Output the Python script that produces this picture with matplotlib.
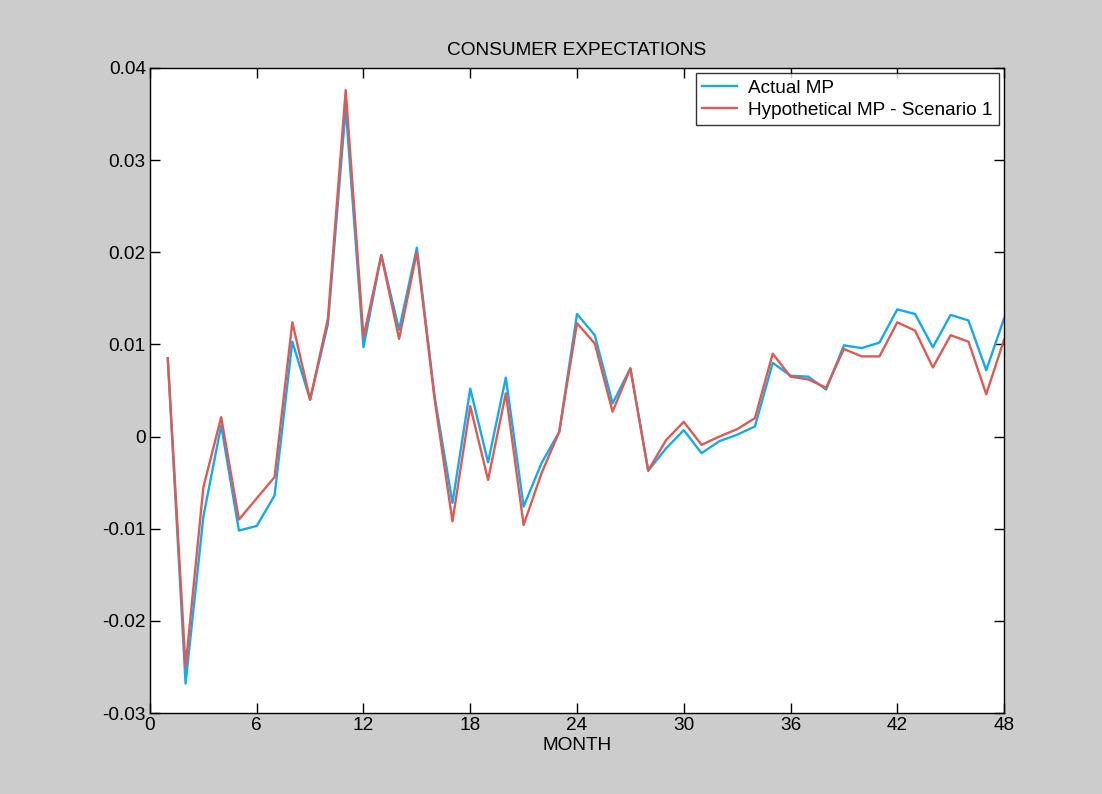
import matplotlib
matplotlib.use("Agg")
import matplotlib.pyplot as plt
import numpy as np

plt.rcParams['font.family'] = ['Liberation Sans', 'DejaVu Sans']

months = np.arange(1, 49)

actual_mp = [
    0.0085, -0.0268, -0.0087, 0.0012, -0.0102, -0.0097, -0.0064, 0.0103,
    0.0040, 0.0122, 0.0357, 0.0097, 0.0197, 0.0116, 0.0205, 0.0043,
    -0.0072, 0.0052, -0.0028, 0.0064, -0.0076, -0.0029, 0.0005, 0.0133,
    0.0110, 0.0036, 0.0074, -0.0037, -0.0013, 0.0007, -0.0018, -0.0005,
    0.0002, 0.0011, 0.0080, 0.0066, 0.0065, 0.0051, 0.0099, 0.0096,
    0.0102, 0.0138, 0.0133, 0.0097, 0.0132, 0.0126, 0.0072, 0.0128,
]

hypothetical_mp = [
    0.0085, -0.0250, -0.0055, 0.0021, -0.0090, -0.0067, -0.0044, 0.0124,
    0.0040, 0.0128, 0.0376, 0.0108, 0.0197, 0.0106, 0.0200, 0.0040,
    -0.0092, 0.0033, -0.0047, 0.0047, -0.0096, -0.0040, 0.0005, 0.0123,
    0.0101, 0.0027, 0.0074, -0.0037, -0.0004, 0.0016, -0.0009, 0.0000,
    0.0008, 0.0020, 0.0090, 0.0065, 0.0062, 0.0053, 0.0095, 0.0087,
    0.0087, 0.0124, 0.0115, 0.0075, 0.0110, 0.0103, 0.0046, 0.0105,
]

x_ticks = [0, 6, 12, 18, 24, 30, 36, 42, 48]
y_ticks = [-0.03, -0.02, -0.01, 0, 0.01, 0.02, 0.03, 0.04]
y_labels = ['-0.03', '-0.02', '-0.01', '0', '0.01', '0.02', '0.03', '0.04']

FS = 13.7

fig = plt.figure(figsize=(11.02, 7.94), dpi=100, facecolor='#cccccc')
ax = fig.add_axes([0.1361, 0.1020, 0.7750, 0.8124])
ax.set_facecolor('white')

ax.plot(months, actual_mp, color='#12aaf2', lw=1.7, label='Actual MP')
ax.plot(months, hypothetical_mp, color='#e05a52', lw=1.7, label='Hypothetical MP - Scenario 1')

ax.set_xlim(0, 48)
ax.set_ylim(-0.03, 0.04)
ax.set_xticks(x_ticks)
ax.set_xticklabels([str(t) for t in x_ticks])
ax.set_yticks(y_ticks)
ax.set_yticklabels(y_labels)
ax.tick_params(direction='in', top=True, right=True, length=7, width=1,
               labelsize=FS, colors='black', pad=3)
for s in ax.spines.values():
    s.set_linewidth(1.0)
    s.set_color('black')

ax.set_title('CONSUMER EXPECTATIONS', fontsize=FS, pad=9)
ax.set_xlabel('MONTH', fontsize=FS, labelpad=2)

leg = ax.legend(loc='upper right', fontsize=FS, frameon=True, fancybox=False,
                edgecolor='black', borderpad=0.35, handlelength=1.8,
                handletextpad=0.6, labelspacing=0.25, borderaxespad=0.25)
leg.get_frame().set_linewidth(1.0)

fig.savefig('out.png', dpi=100, facecolor=fig.get_facecolor())
